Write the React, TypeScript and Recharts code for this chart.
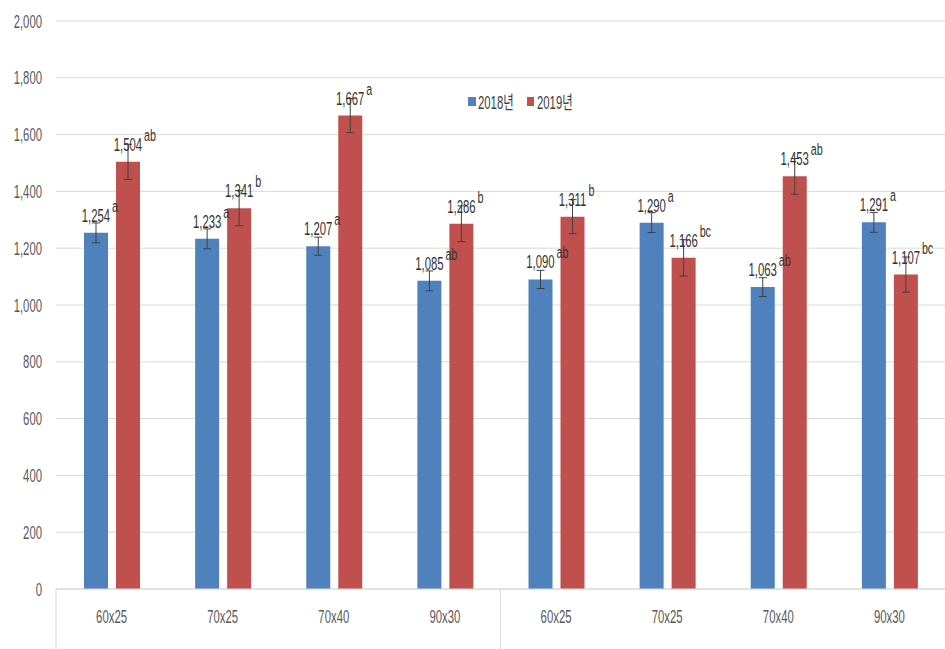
import React from 'react';
import { BarChart, Bar, XAxis, YAxis, CartesianGrid, Legend, ErrorBar, LabelList } from 'recharts';

const categories = ['60x25', '70x25', '70x40', '90x30', '60x25', '70x25', '70x40', '90x30'];
const values2018 = [1254, 1233, 1207, 1085, 1090, 1290, 1063, 1291];
const values2019 = [1504, 1341, 1667, 1286, 1311, 1166, 1453, 1107];
const err2018 = [35, 35, 32, 35, 32, 35, 33, 35];
const err2019 = [62, 62, 60, 63, 60, 64, 63, 62];
const letters2018 = ['a', 'a', 'a', 'ab', 'ab', 'a', 'ab', 'a'];
const letters2019 = ['ab', 'b', 'a', 'b', 'b', 'bc', 'ab', 'bc'];
const yTicks = [0, 200, 400, 600, 800, 1000, 1200, 1400, 1600, 1800, 2000];
const seriesNames = ['2018년', '2019년'];
const groupStarts = [0, 4];

const FONT = '"Liberation Sans", Arial, "Noto Sans CJK KR", sans-serif';
const TEXT = '#595959';
const LABEL = '#333333';
const BLUE = '#4f81bd';
const RED = '#c0504d';
const SX = 0.63;

const data = categories.map((name, i) => ({
  name,
  v2018: values2018[i],
  v2019: values2019[i],
  e2018: err2018[i],
  e2019: err2019[i],
}));

const fmt = (v: number) => v.toLocaleString('en-US');

const NText = ({ x, y, anchor = 'middle', size = 18, fill = LABEL, children }: any) => (
  <text
    transform={`translate(${x},${y}) scale(${SX},1)`}
    x={0}
    y={0}
    textAnchor={anchor}
    fontFamily={FONT}
    fontSize={size}
    fill={fill}
  >
    {children}
  </text>
);

const makeLabel = (letters: string[]) => (props: any) => {
  const { x, y, width, value, index } = props;
  const cx = x + width / 2;
  return (
    <g>
      <NText x={cx} y={y - 11}>{fmt(value)}</NText>
      <NText x={cx + 16} y={y - 21} anchor="start" size={17}>{letters[index]}</NText>
    </g>
  );
};

const XTick = (props: any) => {
  const { x, y, payload, width } = props;
  const band = width / categories.length;
  const idx = payload.index;
  return (
    <g>
      <NText x={x} y={y + 34} fill={TEXT}>{payload.value}</NText>
      {groupStarts.includes(idx) && (
        <line x1={x - band / 2} x2={x - band / 2} y1={y} y2={y + 60} stroke="#d9d9d9" strokeWidth={1} />
      )}
    </g>
  );
};

const YTick = (props: any) => {
  const { x, y, payload } = props;
  return <NText x={x} y={y + 6.5} anchor="end" fill={TEXT}>{fmt(payload.value)}</NText>;
};

const renderLegend = () => (
  <svg width={120} height={20} style={{ display: 'block' }}>
    <rect x={0} y={4} width={8} height={9} fill={BLUE} />
    <NText x={10} y={16} anchor="start" fill="#404040">{seriesNames[0]}</NText>
    <rect x={59} y={4} width={7} height={9} fill={RED} />
    <NText x={69} y={16} anchor="start" fill="#404040">{seriesNames[1]}</NText>
  </svg>
);

export default function App() {
  return (
    <div style={{ position: 'absolute', left: 0, top: 0, background: '#fff' }}>
      <BarChart
        width={945}
        height={649}
        data={data}
        margin={{ top: 21, right: 0, left: 0, bottom: 0 }}
        barSize={24}
        barGap={8}
      >
        <CartesianGrid vertical={false} stroke="#d9d9d9" strokeWidth={1} />
        <XAxis
          dataKey="name"
          height={60}
          tickLine={false}
          tickSize={0}
          tickMargin={0}
          axisLine={{ stroke: '#d9d9d9' }}
          tick={<XTick />}
          interval={0}
        />
        <YAxis
          width={56}
          domain={[0, 2000]}
          ticks={yTicks}
          axisLine={false}
          tickLine={false}
          tickSize={0}
          tickMargin={14}
          tick={<YTick />}
        />
        <Legend
          verticalAlign="middle"
          align="center"
          layout="horizontal"
          content={renderLegend}
          wrapperStyle={{ top: 93, left: 468, width: 120 }}
        />
        <Bar dataKey="v2018" name={seriesNames[0]} fill={BLUE} isAnimationActive={false}>
          <ErrorBar dataKey="e2018" width={4} stroke="#404040" strokeWidth={1} direction="y" />
          <LabelList dataKey="v2018" content={makeLabel(letters2018)} />
        </Bar>
        <Bar dataKey="v2019" name={seriesNames[1]} fill={RED} isAnimationActive={false}>
          <ErrorBar dataKey="e2019" width={4} stroke="#404040" strokeWidth={1} direction="y" />
          <LabelList dataKey="v2019" content={makeLabel(letters2019)} />
        </Bar>
      </BarChart>
    </div>
  );
}
